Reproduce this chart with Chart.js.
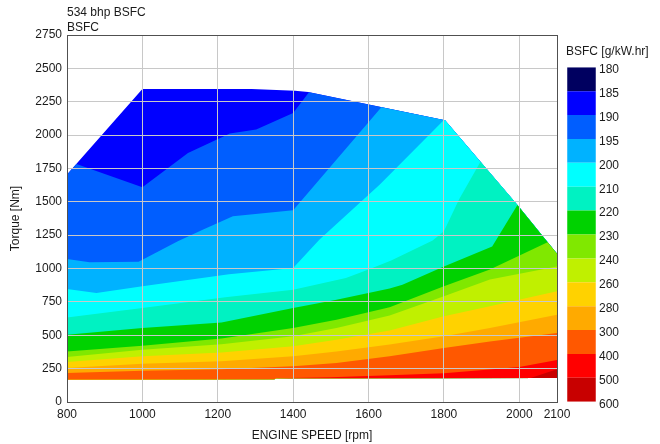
<!DOCTYPE html>
<html>
<head>
<meta charset="utf-8">
<script src="https://cdn.jsdelivr.net/npm/chart.js@4.4.1/dist/chart.umd.min.js"></script>
<style>
  body { margin: 0; background: #fff; }
  #wrap { position: relative; width: 660px; height: 444px; }
  #map { position: absolute; left: 0; top: 0; }
  #bar { position: absolute; left: 560px; top: 0; }
</style>
</head>
<body>
<div id="wrap">
  <canvas id="map" width="660" height="444"></canvas>
  <canvas id="bar" width="100" height="444"></canvas>
</div>
<script>
//
// bsfc levels (g/kW.hr) and the colour of each band between two levels
//
var levels = [180, 185, 190, 195, 200, 210, 220, 230, 240, 260, 280, 300, 400, 500, 600];
var bandColors = ['#000060', '#0000ff', '#005eff', '#00b2ff', '#00ffff', '#00f2c2', '#00d200',
                  '#80e800', '#c0f000', '#ffd200', '#ffaa00', '#ff5800', '#ff0000', '#c80000'];

var xTicks = [800, 1000, 1200, 1400, 1600, 1800, 2000, 2100];
var chartTitle = ['534 bhp BSFC', 'BSFC'];
var legendTitle = 'BSFC [g/kW.hr]';

//
// measured area, [rpm, Nm], clockwise from top of left edge
//
var env = [[800, 1704], [1000, 2346], [1290, 2346], [1405, 2333], [1440, 2322], [1803, 2111],
           [1995, 1477], [2100, 1110], [2100, 180], [1355, 178], [1350, 170], [800, 168]];

//
// contour lines, [rpm, Nm]
//
var c190 = [[825, 1784], [1000, 1609], [1121, 1866], [1232, 2011], [1302, 2041], [1400, 2166], [1442, 2321]];
var c195 = [[800, 1072], [860, 1047], [990, 1050], [1094, 1204], [1160, 1290], [1240, 1391], [1400, 1436], [1634, 2209]];
var c200 = [[800, 847], [878, 817], [1000, 867], [1230, 957], [1400, 1004], [1470, 1217], [1630, 1630], [1800, 2113]];
var c210 = [[800, 634], [1000, 705], [1220, 785], [1400, 842], [1540, 930], [1600, 992], [1660, 1060],
            [1770, 1210], [1800, 1280], [1840, 1517], [1897, 1801]];
var c220 = [[800, 504], [1000, 555], [1210, 595], [1400, 705], [1515, 767], [1656, 850], [1690, 879],
            [1800, 1016], [1928, 1166], [1995, 1477]];
var c230 = [[800, 379], [1000, 422], [1210, 475], [1400, 555], [1515, 617], [1656, 710], [1800, 867], [1922, 992], [2075, 1197]];
var c240 = [[800, 337], [1000, 392], [1210, 432], [1400, 492], [1515, 555], [1656, 648], [1800, 792], [1922, 917], [2100, 1016]];
var c260 = [[800, 300], [1000, 342], [1210, 370], [1400, 417], [1515, 467], [1656, 535], [1800, 642], [1922, 717], [2100, 829]];
var c280 = [[800, 255], [1000, 287], [1210, 305], [1400, 342], [1515, 379], [1656, 430], [1800, 492], [1922, 555], [2100, 654]];
var c300 = [[800, 217], [1000, 235], [1210, 245], [1400, 267], [1515, 292], [1656, 342], [1800, 405], [1922, 454], [2100, 517]];
var c400 = [[1355, 178], [1500, 185], [1656, 200], [1800, 215], [2000, 262], [2100, 315]];
var c500 = [[2030, 180], [2100, 245]];

var contours = [c190, c195, c200, c210, c220, c230, c240, c260, c280, c300, c400, c500];
// which part of the outline closes the area under each contour (from, to index in env)
var tails = [[5, 0], [5, 11], [5, 11], [6, 11], [7, 11], [7, 11], [8, 11], [8, 11], [8, 11], [8, 11], [8, 8], [8, 8]];

var font = {family : "'Liberation Sans', Arial, sans-serif", size : 12};
var textColor = '#1a1a1a';
var frameColor = '#505050';
var gridColor = '#c8c8c8';

function closeRing(line, from, to) {
  var pts = line.slice();
  var i = from;
  while (true) {
    pts.push(env[i]);
    if (i === to) break;
    i = (i + 1) % env.length;
  }
  return pts;
}

function toXY(list) {
  return list.map(function(p) { return {x : p[0], y : p[1]}; });
}

//
// painter order: whole area first, then every region of higher bsfc on top
//
var layers = [{pts : env, color : bandColors[1]}];
for (var i = 0; i < contours.length; i++) {
  layers.push({pts : closeRing(contours[i], tails[i][0], tails[i][1]), color : bandColors[i + 2]});
}
// chart.js paints dataset 0 last
var datasets = layers.reverse().map(function(l) {
  return {
    data : toXY(l.pts),
    backgroundColor : l.color,
    borderColor : l.color,
    borderWidth : 0,
    fill : 'shape',
    pointRadius : 0,
    tension : 0
  };
});

new Chart(document.getElementById('map'), {
  type : 'line',
  data : {datasets : datasets},
  options : {
    responsive : false,
    animation : false,
    events : [],
    layout : {padding : 0},
    plugins : {
      legend : {display : false},
      tooltip : {enabled : false},
      title : {
        display : true,
        text : chartTitle,
        align : 'start',
        fullSize : false,
        color : textColor,
        font : {family : font.family, size : 12, weight : 'normal', lineHeight : 1.25},
        padding : {top : 5, bottom : 0}
      }
    },
    scales : {
      x : {
        type : 'linear',
        min : 800,
        max : 2100,
        afterBuildTicks : function(s) { s.ticks = xTicks.map(function(v) { return {value : v}; }); },
        afterFit : function(s) { s.height = 42; },
        ticks : {autoSkip : false, maxRotation : 0, color : textColor, font : font, padding : 5,
                 callback : function(v) { return String(v); }},
        grid : {color : gridColor, drawTicks : false, z : 1},
        border : {color : frameColor, width : 1, z : 2},
        title : {display : true, text : 'ENGINE SPEED [rpm]', color : textColor, font : font, padding : {top : 0, bottom : 1}}
      },
      y : {
        type : 'linear',
        min : 0,
        max : 2750,
        afterFit : function(s) { s.width = 67; },
        ticks : {stepSize : 250, autoSkip : false, color : textColor, font : font, padding : 5,
                 callback : function(v) { return String(v); }},
        grid : {color : gridColor, drawTicks : false, z : 1},
        border : {color : frameColor, width : 1, z : 2},
        title : {display : true, text : 'Torque [Nm]', color : textColor, font : font, padding : {top : 8, bottom : 0}}
      },
      x2 : {
        type : 'linear',
        position : 'top',
        min : 800,
        max : 2100,
        ticks : {display : false},
        grid : {display : false, drawTicks : false},
        border : {color : frameColor, width : 1, z : 2}
      },
      y2 : {
        type : 'linear',
        position : 'right',
        min : 0,
        max : 2750,
        afterFit : function(s) { s.width = 103; },
        ticks : {display : false},
        grid : {display : false, drawTicks : false},
        border : {color : frameColor, width : 1, z : 2}
      }
    }
  }
});

//
// colour key, one stacked bar, bottom band first
//
var keyColors = bandColors.slice().reverse();
new Chart(document.getElementById('bar'), {
  type : 'bar',
  data : {
    labels : [''],
    datasets : keyColors.map(function(c) {
      return {data : [1], backgroundColor : c, borderWidth : 0, barPercentage : 0.92, categoryPercentage : 1};
    })
  },
  options : {
    responsive : false,
    animation : false,
    events : [],
    layout : {padding : {left : 6, right : 0, top : 0, bottom : 42.3}},
    plugins : {
      legend : {display : false},
      tooltip : {enabled : false},
      title : {
        display : true,
        text : legendTitle,
        align : 'start',
        color : textColor,
        font : {family : font.family, size : 12, weight : 'normal'},
        padding : {top : 44, bottom : 8.9}
      }
    },
    scales : {
      x : {stacked : true, display : false},
      y : {
        stacked : true,
        position : 'right',
        min : 0,
        max : 14,
        afterFit : function(s) { s.width = 63; },
        ticks : {stepSize : 1, autoSkip : false, color : textColor, font : font, padding : 2, labelOffset : 2.5,
                 callback : function(v) { return String(levels[14 - Math.round(v)]); }},
        grid : {display : false, drawTicks : false},
        border : {display : false}
      }
    }
  }
});
</script>
</body>
</html>
